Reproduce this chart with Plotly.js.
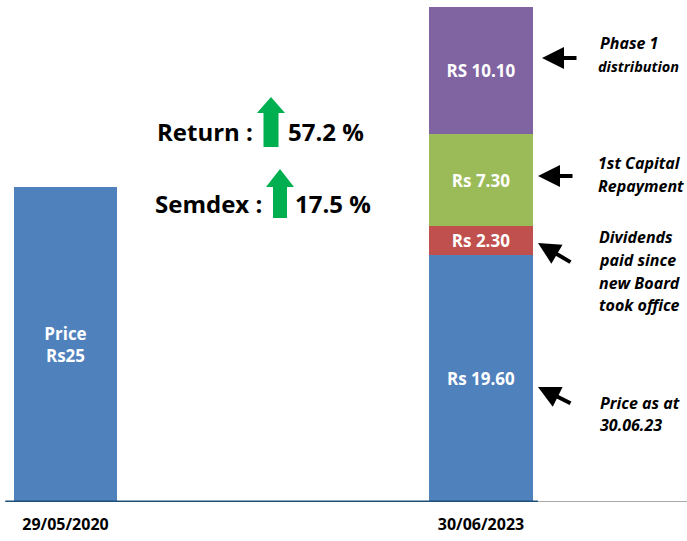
<!DOCTYPE html>
<html>
<head>
<meta charset="utf-8">
<script src="https://cdn.plot.ly/plotly-3.0.1.min.js"></script>
<style>html,body{margin:0;padding:0;background:#fff;}#chart{width:687px;height:541px;}</style>
</head>
<body>
<div id="chart"></div>
<script>
// ---- data ----
const categories = ['29/05/2020', '30/06/2023'];
const priceValues = [25, 19.60];
const priceLabels = ['Price<br>Rs25', 'Rs 19.60'];
const dividendValues = [2.30];
const dividendLabels = ['Rs 2.30'];
const capitalValues = [7.30];
const capitalLabels = ['Rs 7.30'];
const phaseValues = [10.10];
const phaseLabels = ['RS 10.10'];
const returnPct = '57.2 %';
const semdexPct = '17.5 %';

// ---- geometry helpers ----
const W = 687, H = 541, M = {l: 0, r: 0, t: 0, b: 39};
const PH = H - M.t - M.b;
const X = px => px / W;
const Y = py => 1 - (py - M.t) / PH;

const FONT = '"Open Sans", "DejaVu Sans", sans-serif';
const barFont = {family: FONT, size: 17, color: '#ffffff', weight: 700};

function barTrace(xs, ys, labels, color, name) {
  return {
    type: 'bar', name: name,
    x: xs, y: ys, text: labels,
    width: 0.25,
    textposition: 'inside', insidetextanchor: 'middle',
    textfont: barFont, constraintext: 'none',
    marker: {color: color, line: {width: 0}},
    hoverinfo: 'skip'
  };
}

const xIdx = [0, 1];
const traces = [
  barTrace(xIdx, priceValues, priceLabels, '#4F81BD', 'Price'),
  barTrace([1], dividendValues, dividendLabels, '#C0504D', 'Dividends'),
  barTrace([1], capitalValues, capitalLabels, '#9BBB59', 'Capital'),
  barTrace([1], phaseValues, phaseLabels, '#8064A2', 'Phase 1')
];

// green up arrows
function upArrow(apexX, apexY, headHalf, headBaseY, shaftHalf, bottomY) {
  const p = [
    [apexX, apexY], [apexX + headHalf, headBaseY], [apexX + shaftHalf, headBaseY],
    [apexX + shaftHalf, bottomY], [apexX - shaftHalf, bottomY], [apexX - shaftHalf, headBaseY],
    [apexX - headHalf, headBaseY]
  ];
  return {
    type: 'path', xref: 'paper', yref: 'paper',
    path: 'M' + p.map(q => X(q[0]).toFixed(5) + ',' + Y(q[1]).toFixed(5)).join(' L') + ' Z',
    fillcolor: '#00B050', line: {width: 0}
  };
}

const shapes = [
  {type: 'line', xref: 'x', yref: 'y', x0: -0.145, x1: 1.137, y0: 0, y1: 0, line: {color: '#1F4E79', width: 3}},
  {type: 'line', xref: 'x', yref: 'y', x0: 1.137, x1: 1.6, y0: 0, y1: 0, line: {color: '#8C8C8C', width: 1.5}},
  upArrow(271, 97, 14, 113, 7.5, 147),
  upArrow(280, 169, 14, 187, 7, 218)
];

const bigFont = {family: FONT, size: 24, color: '#000000', weight: 700};
const noteFont = {family: FONT, size: 16, color: '#000000', weight: 700, style: 'italic'};

const annotations = [
  {text: 'Return :', x: X(255), y: Y(131), xanchor: 'right', yanchor: 'middle', font: bigFont},
  {text: returnPct, x: X(286), y: Y(131), xanchor: 'left', yanchor: 'middle', font: bigFont},
  {text: 'Semdex :', x: X(264), y: Y(203), xanchor: 'right', yanchor: 'middle', font: bigFont},
  {text: semdexPct, x: X(293), y: Y(203), xanchor: 'left', yanchor: 'middle', font: bigFont}
];

const notes = [
  ['Phase 1', 598, 43], ['distribution', 596, 66, 14.5],
  ['1st Capital', 596, 163], ['Repayment', 596, 186],
  ['Dividends', 597, 237], ['paid since', 597, 260], ['new Board', 597, 283], ['took office', 597, 305],
  ['Price as at', 598, 403], ['30.06.23', 598, 425]
];
notes.forEach(n => annotations.push({
  text: n[0], x: X(n[1]), y: Y(n[2]), xanchor: 'left', yanchor: 'middle',
  font: Object.assign({}, noteFont, n[3] ? {size: n[3]} : {}), showarrow: false
}));

const arrows = [
  [542, 58, 578, 58], [538, 176, 574, 176], [538, 243, 572, 263], [538, 387, 572, 404]
];
arrows.forEach(a => annotations.push({
  text: '', x: X(a[0]), y: Y(a[1]), ax: a[2] - a[0], ay: a[3] - a[1],
  showarrow: true, arrowhead: 2, arrowsize: 1.1, arrowwidth: 4, arrowcolor: '#000000'
}));
annotations.forEach(a => { a.xref = 'paper'; a.yref = 'paper'; if (a.showarrow === undefined) a.showarrow = false; });

const layout = {
  width: W, height: H,
  margin: M,
  paper_bgcolor: '#ffffff', plot_bgcolor: '#ffffff',
  barmode: 'stack',
  showlegend: false,
  xaxis: {
    range: [-0.1576, 1.4958], tickvals: xIdx, ticktext: categories,
    showgrid: false, zeroline: false, showline: false, ticks: '',
    tickfont: {family: FONT, size: 16, color: '#000000', weight: 700},
    ticklabelstandoff: 11, fixedrange: true
  },
  yaxis: {range: [0, 39.87], visible: false, fixedrange: true},
  shapes: shapes,
  annotations: annotations
};

Plotly.newPlot('chart', traces, layout, {displayModeBar: false, staticPlot: true});
</script>
</body>
</html>
